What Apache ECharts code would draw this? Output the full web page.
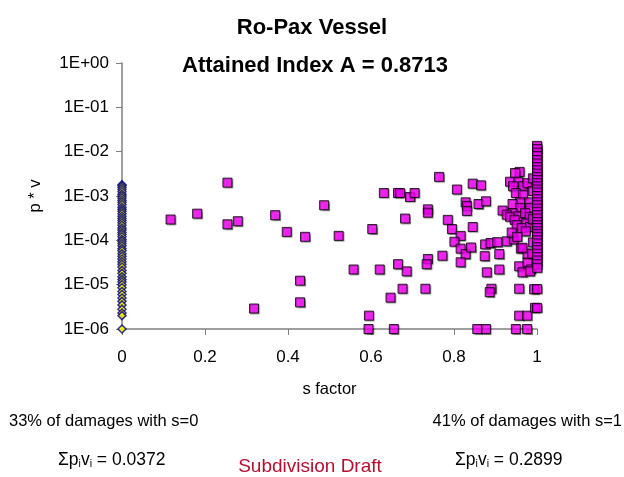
<!DOCTYPE html>
<html>
<head>
<meta charset="utf-8">
<script src="https://cdn.jsdelivr.net/npm/echarts@6/dist/echarts.min.js"></script>
<style>
  html, body { margin: 0; padding: 0; background: #fff; }
  #chartId { width: 624px; height: 477px; }
</style>
</head>
<body>
<div id="chartId"></div>
<script>
// damages with s = 0 (all sit on the y axis)
const sZeroPV = [
  1.8e-3, 1.7e-3, 1.55e-3, 1.4e-3, 1.25e-3, 1.1e-3, 1e-3, 9e-4, 8e-4, 7.2e-4,
  6.4e-4, 5.6e-4, 5e-4, 4.5e-4, 4e-4, 3.5e-4, 3.1e-4, 2.8e-4, 2.5e-4, 2.2e-4,
  1.9e-4, 1.7e-4, 1.5e-4, 1.35e-4, 1.2e-4, 1.05e-4, 9.5e-5, 8.5e-5, 7.5e-5, 6.5e-5,
  5.8e-5, 5e-5, 4.4e-5, 3.8e-5, 3.3e-5, 2.9e-5, 2.5e-5, 2.1e-5, 1.8e-5, 1.5e-5,
  1.3e-5, 1.15e-5, 1e-5, 8.5e-6, 7e-6, 6e-6, 5e-6, 4.2e-6, 3.5e-6, 2.8e-6,
  2.3e-6, 2e-6, 1e-6
];

// damages with s = 1
const sOnePV = [
  1.35e-2, 1.15e-2, 9.5e-3, 8e-3, 6.5e-3, 5.4e-3, 4.5e-3, 3.8e-3, 3.2e-3, 2.7e-3,
  2.3e-3, 1.95e-3, 1.65e-3, 1.4e-3, 1.2e-3, 1e-3, 8.5e-4, 7.2e-4, 6.2e-4, 5.2e-4,
  4.4e-4, 3.7e-4, 3.1e-4, 2.6e-4, 2.2e-4, 1.9e-4, 1.6e-4, 1.4e-4, 1.2e-4, 1e-4,
  8.5e-5, 7e-5, 6e-5, 5e-5, 4.2e-5, 3.5e-5, 2.9e-5, 2.4e-5, 8e-6, 3e-6
];

// damages with 0 < s < 1 : [s, p*v]
const partialPoints = [
  [0.117, 2.95e-4], [0.181, 4.0e-4], [0.254, 2.0e-3], [0.254, 2.3e-4], [0.279, 2.7e-4],
  [0.318, 2.9e-6], [0.369, 3.7e-4], [0.397, 1.55e-4], [0.441, 1.2e-4], [0.487, 6.2e-4],
  [0.522, 1.26e-4], [0.603, 1.8e-4], [0.631, 1.17e-3], [0.665, 1.17e-3], [0.429, 1.23e-5],
  [0.429, 4.0e-6], [0.558, 2.2e-5], [0.621, 2.2e-5], [0.665, 2.9e-5], [0.647, 5.1e-6],
  [0.595, 2.0e-6], [0.594, 1e-6], [0.655, 1e-6], [0.670, 1.17e-3], [0.694, 9.5e-4],
  [0.705, 1.17e-3], [0.764, 2.7e-3], [0.807, 1.4e-3], [0.845, 1.9e-3], [0.865, 1.74e-3],
  [0.682, 3.1e-4], [0.737, 5.0e-4], [0.737, 4.2e-4], [0.785, 2.9e-4], [0.795, 1.8e-4],
  [0.828, 7.2e-4], [0.831, 6.0e-4], [0.831, 4.6e-4], [0.859, 6.6e-4], [0.877, 7.6e-4],
  [0.845, 2.0e-4], [0.816, 1.26e-4], [0.801, 9.3e-5], [0.816, 6.5e-5], [0.828, 4.9e-5],
  [0.841, 6.9e-5], [0.772, 4.5e-5], [0.737, 3.8e-5], [0.734, 2.9e-5], [0.816, 3.2e-5],
  [0.686, 2.0e-5], [0.676, 8.1e-6], [0.731, 8.1e-6], [0.856, 1e-6], [0.877, 1e-6],
  [0.949, 1e-6], [0.976, 1e-6], [0.875, 8.1e-5], [0.888, 8.7e-5], [0.904, 9.1e-5],
  [0.874, 4.4e-5], [0.909, 4.9e-5], [0.879, 1.9e-5], [0.909, 2.2e-5], [0.890, 8.1e-6],
  [0.886, 6.8e-6], [0.927, 9.5e-5], [0.944, 1.05e-4], [0.957, 8.1e-6], [0.993, 7.9e-6],
  [0.957, 2.0e-6], [0.976, 2.0e-6], [0.995, 3.0e-6], [0.957, 2.6e-5], [0.965, 1.9e-5],
  [0.977, 3.2e-5], [0.985, 2.2e-5], [0.961, 6.5e-5], [0.977, 5.0e-5], [0.958, 3.5e-3],
  [0.947, 3.3e-3], [0.935, 2.1e-3], [0.955, 2.1e-3], [0.942, 1.66e-3], [0.966, 1.66e-3],
  [0.977, 1.95e-3], [0.949, 1.17e-3], [0.966, 1.07e-3], [0.959, 7.2e-4], [0.941, 6.6e-4],
  [0.982, 7.2e-4], [0.983, 5.4e-4], [0.959, 5.4e-4], [0.941, 4.1e-4], [0.917, 4.7e-4],
  [0.927, 3.8e-4], [0.935, 3.4e-4], [0.955, 3.5e-4], [0.971, 4.1e-4], [0.982, 3.4e-4],
  [0.946, 2.9e-4], [0.974, 2.4e-4], [0.951, 2.2e-4], [0.963, 1.9e-4], [0.983, 2.0e-4],
  [0.973, 1.6e-4], [0.939, 1.5e-4], [0.952, 1.2e-4], [0.965, 6.8e-5], [0.983, 2.0e-5],
  [0.990, 2.5e-3], [0.990, 1.3e-3], [0.990, 3.0e-4], [0.990, 9.0e-5], [0.988, 5.0e-5]
];

const chartTitle = "Ro-Pax Vessel";
const subTitle = "Attained Index A = 0.8713";
const zeroShare = "33% of damages with s=0";
const oneShare = "41% of damages with s=1";
const zeroSum = "0.0372";
const oneSum = "0.2899";
const draftLabel = "Subdivision Draft";

const fontFam = "'Liberation Sans', Arial, sans-serif";
const axisGrey = "#808080";

let sumRich = {
  a: { fontSize: 17.5, fontWeight: "normal", fontFamily: fontFam, color: "#000" },
  s: { fontSize: 10.5, fontWeight: "normal", fontFamily: fontFam, color: "#000", padding: [9, 0, 0, 0] },
};

let option = {
  animation: false,
  backgroundColor: "#fff",
  title: [
    {
      text: chartTitle, left: 312, top: 17, textAlign: "center", padding: 0,
      textStyle: { fontSize: 22, fontWeight: "bold", fontFamily: fontFam, color: "#000" },
    },
    {
      text: subTitle, left: 315, top: 55, textAlign: "center", padding: 0,
      textStyle: { fontSize: 22, fontWeight: "bold", fontFamily: fontFam, color: "#000" },
    },
    {
      text: zeroShare, left: 9, top: 413, padding: 0,
      textStyle: { fontSize: 16.5, fontWeight: "normal", fontFamily: fontFam, color: "#000" },
    },
    {
      text: oneShare, right: 2, top: 413, padding: 0,
      textStyle: { fontSize: 16.5, fontWeight: "normal", fontFamily: fontFam, color: "#000" },
    },
    {
      text: "{a|Σp}{s|i}{a|v}{s|i}{a| = " + zeroSum + "}", left: 58, top: 450, padding: 0,
      textStyle: { rich: sumRich },
    },
    {
      text: "{a|Σp}{s|i}{a|v}{s|i}{a| = " + oneSum + "}", left: 455, top: 450, padding: 0,
      textStyle: { rich: sumRich },
    },
    {
      text: draftLabel, left: 310, top: 457, textAlign: "center", padding: 0,
      textStyle: { fontSize: 19, fontWeight: "normal", fontFamily: fontFam, color: "#b5102f" },
    },
  ],
  grid: { left: 122, right: 87, top: 63, bottom: 148, containLabel: false },
  xAxis: {
    type: "value",
    min: 0,
    max: 1,
    interval: 0.2,
    name: "s factor",
    nameLocation: "middle",
    nameGap: 52,
    nameTextStyle: { fontSize: 16.5, fontFamily: fontFam, color: "#000" },
    splitLine: { show: false },
    axisLine: { onZero: false, lineStyle: { color: axisGrey, width: 1.5 } },
    axisTick: { show: true, length: 6, lineStyle: { color: axisGrey } },
    axisLabel: { color: "#000", fontSize: 17, fontFamily: fontFam, margin: 20 },
  },
  yAxis: {
    type: "log",
    logBase: 10,
    min: 1e-6,
    max: 1,
    interval: 1,
    name: "p * v",
    nameLocation: "middle",
    nameGap: 78,
    nameTextStyle: { fontSize: 16.5, fontFamily: fontFam, color: "#000" },
    splitLine: { show: false },
    axisLine: { show: true, lineStyle: { color: axisGrey, width: 1.5 } },
    axisTick: { show: true, length: 6, lineStyle: { color: axisGrey } },
    axisLabel: {
      color: "#000",
      fontSize: 17,
      fontFamily: fontFam,
      margin: 13,
      formatter: (v) => {
        let e = Math.round(Math.log10(v));
        return "1E" + (e < 0 ? "-" : "+") + String(Math.abs(e)).padStart(2, "0");
      },
    },
  },
  series: [
    {
      type: "scatter",
      clip: false,
      symbol: "diamond",
      symbolSize: 8,
      itemStyle: { color: "#ffff00", borderColor: "#000080", borderWidth: 1.5 },
      data: sZeroPV.map((v) => [0, v]),
    },
    {
      type: "scatter",
      clip: false,
      symbol: "rect",
      symbolSize: 9,
      itemStyle: {
        color: "#ff00ff", borderColor: "#000", borderWidth: 1,
        shadowColor: "rgba(0,0,0,0.45)", shadowBlur: 1, shadowOffsetX: 1, shadowOffsetY: 1,
      },
      data: partialPoints.concat(sOnePV.map((v) => [1, v])),
    },
  ],
};

let chart = echarts.init(document.getElementById("chartId"));
chart.setOption(option);
</script>
</body>
</html>
